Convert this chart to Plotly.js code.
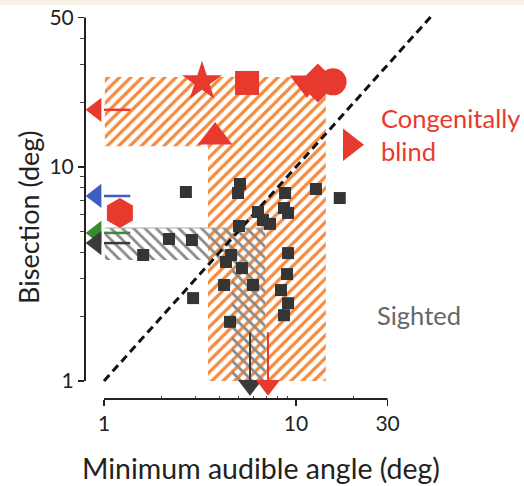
<!DOCTYPE html>
<html>
<head>
<meta charset="utf-8">
<script src="https://cdn.plot.ly/plotly-3.0.1.min.js"></script>
<style>html,body{margin:0;padding:0;background:#fff;}#chart{width:524px;height:486px;}</style>
</head>
<body>
<div id="chart"></div>
<script>
// Sighted participants (black squares): minimum audible angle (deg) vs bisection threshold (deg)
const sightedMAA = [2.67, 5.11, 4.99, 8.77, 12.7, 16.9, 6.34, 8.66, 9.09, 6.73, 7.32, 5.05, 2.18, 2.87, 1.60, 4.59, 4.32, 5.23, 9.09, 8.98, 4.22, 5.97, 8.35, 9.09, 2.91, 8.66, 4.53];
const sightedBisection = [7.64, 8.33, 7.56, 7.56, 7.89, 7.16, 6.16, 6.43, 6.10, 5.65, 5.42, 5.30, 4.61, 4.56, 3.88, 3.88, 3.60, 3.37, 3.96, 3.16, 2.81, 2.81, 2.66, 2.31, 2.44, 2.03, 1.89];

// Congenitally blind participants (red symbols)
const blindMAA = [3.24, 5.56, 11.4, 13.0, 15.6, 3.79, 19.1, 1.21];
const blindBisection = [25.0, 24.7, 24.7, 24.7, 25.0, 13.8, 12.7, 6.10];
const blindSymbols = ['star', 'square', 'triangle-down', 'diamond', 'circle', 'triangle-up', 'triangle-right', 'hexagon'];
const blindSizes = [30, 24, 30, 30, 27, 30, 28, 30];

// Group ranges (hatched areas): [min, max]
const blindMAARange = [3.48, 14.3];
const blindBisRange = [12.5, 26.3];
const sightedMAARange = [4.64, 6.9];
const sightedBisRange = [3.68, 5.19];

// Off-scale arrows (values below 1 deg): bisection of MAA-only, and MAA of bisection-only
const leftArrowBis = [18.5, 7.32, 4.92, 4.41];
const leftArrowColors = ['#E8392F', '#3C5EC2', '#3A8A30', '#3A3A3A'];
const downArrowMAA = [5.76, 7.15];
const downArrowColors = ['#3A3A3A', '#E8392F'];

// Axis ticks
const xTicks = [1, 10, 30];
const xMinor = [2, 3, 4, 5, 6, 7, 8, 9, 20];
const yTicks = [1, 10, 50];
const yMinor = [2, 3, 4, 5, 6, 7, 8, 9, 20, 30, 40];

const RED = '#E8392F';
const ORANGE = '#F58A3F';
const FONT = 'Lato, "Open Sans", sans-serif';

function lShape(xr, yr, xLeft, yBottom) {
  return {
    x: [xLeft, xr[1], xr[1], xr[0], xr[0], xLeft, xLeft],
    y: [yr[1], yr[1], yBottom, yBottom, yr[0], yr[0], yr[1]]
  };
}

const traces = [];
const bl = lShape(blindMAARange, blindBisRange, 1.01, 1);
traces.push({x: bl.x, y: bl.y, type: 'scatter', mode: 'none', fill: 'toself',
  fillcolor: 'rgba(0,0,0,0)',
  fillpattern: {shape: '/', fgcolor: ORANGE, bgcolor: 'rgba(0,0,0,0)', size: 8, solidity: 0.4},
  hoverinfo: 'skip', showlegend: false});
const sl = lShape(sightedMAARange, sightedBisRange, 1.01, 1);
traces.push({x: sl.x, y: sl.y, type: 'scatter', mode: 'none', fill: 'toself',
  fillcolor: 'rgba(0,0,0,0)',
  fillpattern: {shape: '\\', fgcolor: '#8A8A8A', bgcolor: 'rgba(0,0,0,0)', size: 8, solidity: 0.35},
  hoverinfo: 'skip', showlegend: false});
// top edge of the sighted range
traces.push({x: [1.01, sightedMAARange[1]], y: [sightedBisRange[1], sightedBisRange[1]], type: 'scatter', mode: 'lines',
  line: {color: '#B0B0B0', width: 1}, hoverinfo: 'skip', showlegend: false});

// identity line
traces.push({x: [1, 52], y: [1, 52], type: 'scatter', mode: 'lines',
  line: {color: '#111', width: 3, dash: '8px,5px'}, hoverinfo: 'skip', showlegend: false});

// sighted squares
traces.push({x: sightedMAA, y: sightedBisection, type: 'scatter', mode: 'markers',
  marker: {symbol: 'square', size: 12, color: '#353535', opacity: 1, line: {width: 0}}, showlegend: false});

// left arrows
leftArrowBis.forEach((b, i) => {
  traces.push({x: [1.0, 1.37], y: [b, b], type: 'scatter', mode: 'lines',
    line: {color: leftArrowColors[i], width: 2.5}, showlegend: false, hoverinfo: 'skip'});
  traces.push({x: [0.91], y: [b], type: 'scatter', mode: 'markers',
    marker: {symbol: 'triangle-left', size: 21, color: leftArrowColors[i], opacity: 1, line: {width: 0}}, showlegend: false});
});
// down arrows
downArrowMAA.forEach((m, i) => {
  traces.push({x: [m, m], y: [1.69, 1.0], type: 'scatter', mode: 'lines',
    line: {color: downArrowColors[i], width: 2}, showlegend: false, hoverinfo: 'skip'});
  traces.push({x: [m], y: [0.955], type: 'scatter', mode: 'markers',
    marker: {symbol: 'triangle-down', size: 21, color: downArrowColors[i], opacity: 1, line: {width: 0}}, showlegend: false});
});

// blind symbols
traces.push({x: blindMAA, y: blindBisection, type: 'scatter', mode: 'markers',
  marker: {symbol: blindSymbols, size: blindSizes, color: RED, opacity: 1, line: {width: 0}}, showlegend: false});

const xr = [-0.099, 1.776];
const yr = [-0.0841, 1.7336];

const layout = {
  width: 524, height: 486,
  margin: {l: 85, r: 79, t: 10, b: 87, pad: 0},
  paper_bgcolor: '#fff', plot_bgcolor: 'rgba(0,0,0,0)',
  showlegend: false,
  font: {family: FONT, color: '#222'},
  xaxis: {type: 'log', range: xr, showgrid: false, zeroline: false, showline: false,
    tickmode: 'array', tickvals: xTicks, ticktext: xTicks.map(String),
    ticks: 'outside', ticklen: 6, tickwidth: 1.5, tickcolor: '#222',
    tickfont: {size: 21, family: FONT, color: '#222'},
    minor: {tickmode: 'array', tickvals: xMinor, ticks: 'inside', ticklen: 3, tickwidth: 1, tickcolor: '#444'}},
  yaxis: {type: 'log', range: yr, showgrid: false, zeroline: false, showline: false,
    tickmode: 'array', tickvals: yTicks, ticktext: yTicks.map(String),
    ticks: 'outside', ticklen: 6, tickwidth: 1.5, tickcolor: '#222',
    tickfont: {size: 21, family: FONT, color: '#222'},
    minor: {tickmode: 'array', tickvals: yMinor, ticks: 'outside', ticklen: 4, tickwidth: 1, tickcolor: '#444'}},
  shapes: [
    {type: 'line', xref: 'x', yref: 'paper', x0: 1, x1: 30, y0: 0, y1: 0, line: {color: '#222', width: 2}},
    {type: 'line', xref: 'paper', yref: 'y', x0: 0, x1: 0, y0: 1, y1: 50, line: {color: '#222', width: 2}},
    {type: 'rect', xref: 'paper', yref: 'paper', x0: -0.3, x1: 1.3, y0: 1.0129, y1: 1.03, fillcolor: '#F6F1E2', line: {width: 0}, layer: 'below'}
  ],
  annotations: [
    {text: 'Minimum audible angle (deg)', xref: 'paper', yref: 'paper', x: 0.49, y: -0.178, xanchor: 'center', yanchor: 'middle',
      showarrow: false, font: {size: 28.5, family: FONT, color: '#222'}},
    {text: 'Bisection (deg)', xref: 'paper', yref: 'paper', x: -0.155, y: 0.466, xanchor: 'center', yanchor: 'middle', textangle: -90,
      showarrow: false, font: {size: 27, family: FONT, color: '#222'}},
    {text: 'Congenitally<br>blind', xref: 'paper', yref: 'paper', x: 0.817, y: 0.679, xanchor: 'left', yanchor: 'middle', align: 'left',
      showarrow: false, font: {size: 25.5, family: FONT, color: RED}},
    {text: 'Sighted', xref: 'paper', yref: 'paper', x: 0.805, y: 0.216, xanchor: 'left', yanchor: 'middle',
      showarrow: false, font: {size: 25.5, family: FONT, color: '#666'}}
  ]
};

Plotly.newPlot('chart', traces, layout, {displayModeBar: false, staticPlot: true});
</script>
</body>
</html>
